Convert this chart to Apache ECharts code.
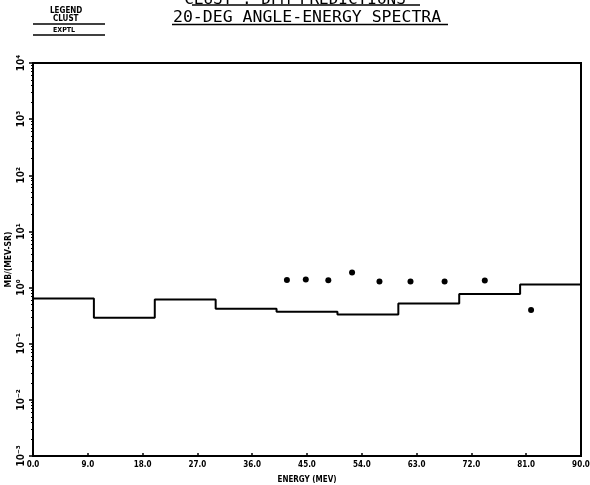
<!DOCTYPE html>
<html>
<head>
<meta charset="utf-8">
<script src="https://cdn.jsdelivr.net/npm/echarts@6/dist/echarts.min.js"></script>
<style>html,body{margin:0;padding:0;background:#fff;}#c{width:590px;height:485px;}</style>
</head>
<body>
<div id="c"></div>
<script>
// Histogram (CLUST prediction): bin edges (MeV) and values (MB/(MEV-SR))
var binEdges = [0, 10, 20, 30, 40, 50, 60, 70, 80, 90];
var clustValues = [0.64, 0.29, 0.61, 0.42, 0.37, 0.33, 0.52, 0.77, 1.13];
// Experimental points
var exptlEnergy = [41.7, 44.8, 48.5, 52.4, 56.9, 62.0, 67.6, 74.2, 81.8];
var exptlValues = [1.37, 1.39, 1.35, 1.85, 1.28, 1.28, 1.28, 1.33, 0.40];
// Tick labels
var xTicks = [0, 9, 18, 27, 36, 45, 54, 63, 72, 81, 90];
var yTickLabels = {'-3':'10⁻³','-2':'10⁻²','-1':'10⁻¹','0':'10⁰','1':'10¹','2':'10²','3':'10³','4':'10⁴'};

var histData = [];
for (var i = 0; i < clustValues.length; i++) histData.push([binEdges[i], clustValues[i]]);
histData.push([binEdges[binEdges.length - 1], clustValues[clustValues.length - 1]]);
var ptData = exptlEnergy.map(function (e, i) { return [e, exptlValues[i]]; });

var chart = echarts.init(document.getElementById('c'), null, {renderer: 'canvas'});
chart.setOption({
  animation: false,
  backgroundColor: '#fff',
  grid: {left: 33, right: 9, top: 63, bottom: 29, containLabel: false, outerBoundsMode: 'none',
         show: true, borderColor: '#000', borderWidth: 2, backgroundColor: 'transparent'},
  xAxis: {
    type: 'value', min: 0, max: 90, interval: 9,
    name: 'ENERGY (MEV)', nameLocation: 'middle', nameGap: 20,
    nameTextStyle: {fontFamily: 'DejaVu Sans Condensed', fontWeight: 'bold', fontSize: 8, color: '#000'},
    axisLine: {show: true, lineStyle: {color: '#000', width: 2}},
    axisTick: {show: true, inside: true, length: 3, lineStyle: {color: '#000', width: 1.5}},
    splitLine: {show: false},
    axisLabel: {
      color: '#000', fontFamily: 'DejaVu Sans Condensed', fontWeight: 'bold', fontSize: 8, margin: 5,
      formatter: function (v) { return xTicks.indexOf(v) >= 0 ? v.toFixed(1) : ''; }
    }
  },
  yAxis: {
    type: 'log', logBase: 10, min: 0.001, max: 10000,
    name: 'MB/(MEV-SR)', nameLocation: 'middle', nameGap: 20, nameRotate: 90, nameMoveOverlap: false,
    nameTextStyle: {fontFamily: 'DejaVu Sans Condensed', fontWeight: 'bold', fontSize: 8.5, color: '#000'},
    axisLine: {show: true, lineStyle: {color: '#000', width: 2}},
    axisTick: {show: true, inside: false, length: 4, lineStyle: {color: '#000', width: 1.5}},
    minorTick: {show: true, splitNumber: 9, length: 2, lineStyle: {color: '#000', width: 1}},
    splitLine: {show: false},
    axisLabel: {
      rotate: 90, color: '#000', fontFamily: 'DejaVu Sans Condensed', fontWeight: 'bold', fontSize: 10, margin: 7,
      formatter: function (v) { var e = Math.round(Math.log10(v)); return yTickLabels[String(e)] || ''; }
    }
  },
  series: [
    {type: 'line', step: 'end', data: histData, symbol: 'none', lineStyle: {color: '#000', width: 2}},
    {type: 'scatter', data: ptData, symbol: 'circle', symbolSize: 6, itemStyle: {color: '#000', opacity: 1}}
  ],
  graphic: [
    {type: 'text', left: 'center', top: -8, style: {text: 'CLUST : DPM PREDICTIONS', font: '16px "DejaVu Sans Mono"', fill: '#000'}},
    {type: 'line', shape: {x1: 192, y1: 5, x2: 420, y2: 5}, style: {stroke: '#000', lineWidth: 1.5}},
    {type: 'text', x: 173, y: 9, style: {text: '20-DEG ANGLE-ENERGY SPECTRA', font: '16.5px "DejaVu Sans Mono"', fill: '#000'}},
    {type: 'line', shape: {x1: 172, y1: 24.5, x2: 448, y2: 24.5}, style: {stroke: '#000', lineWidth: 1.5}},
    {type: 'text', x: 50, y: 7, style: {text: 'LEGEND', font: 'bold 8px "DejaVu Sans Condensed"', fill: '#000'}},
    {type: 'text', x: 53, y: 15, style: {text: 'CLUST', font: 'bold 8px "DejaVu Sans Condensed"', fill: '#000'}},
    {type: 'line', shape: {x1: 33, y1: 24, x2: 105, y2: 24}, style: {stroke: '#000', lineWidth: 1.5}},
    {type: 'text', x: 53, y: 27, style: {text: 'EXPTL', font: 'bold 7px "DejaVu Sans Condensed"', fill: '#000'}},
    {type: 'line', shape: {x1: 33, y1: 35, x2: 105, y2: 35}, style: {stroke: '#000', lineWidth: 1.5}}
  ]
});
</script>
</body>
</html>
